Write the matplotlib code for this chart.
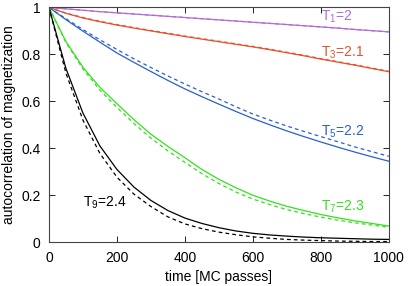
import matplotlib
matplotlib.use("Agg")
import matplotlib.pyplot as plt

# time axis (MC passes)
T = [0, 50, 100, 150, 200, 250, 300, 350, 400, 450, 500,
     550, 600, 650, 700, 750, 800, 850, 900, 950, 1000]

# solid curves
T1 = [1, 0.994, 0.988, 0.982, 0.977, 0.972, 0.967, 0.962, 0.957, 0.952, 0.947,
      0.942, 0.937, 0.932, 0.927, 0.922, 0.917, 0.912, 0.906, 0.901, 0.896]
T3 = [1, 0.975, 0.955, 0.939, 0.925, 0.912, 0.9, 0.888, 0.876, 0.865, 0.854,
      0.843, 0.832, 0.82, 0.807, 0.794, 0.78, 0.767, 0.754, 0.74, 0.726]
T5 = [1, 0.948, 0.899, 0.852, 0.806, 0.766, 0.727, 0.689, 0.653, 0.62, 0.588,
      0.557, 0.527, 0.5, 0.474, 0.45, 0.427, 0.405, 0.384, 0.364, 0.345]
T7 = [1, 0.855, 0.745, 0.66, 0.59, 0.522, 0.46, 0.408, 0.36, 0.31, 0.268,
      0.232, 0.2, 0.175, 0.153, 0.135, 0.118, 0.104, 0.091, 0.08, 0.069]
T9 = [1, 0.74, 0.55, 0.41, 0.31, 0.235, 0.178, 0.135, 0.103, 0.08, 0.062,
      0.048, 0.038, 0.031, 0.026, 0.022, 0.019, 0.017, 0.015, 0.013, 0.012]

# dashed curves
T1d = T1
T3d = [1, 0.976, 0.957, 0.941, 0.927, 0.914, 0.902, 0.89, 0.878, 0.867, 0.856,
       0.845, 0.834, 0.822, 0.809, 0.796, 0.782, 0.769, 0.756, 0.742, 0.728]
T5d = [1, 0.952, 0.906, 0.862, 0.821, 0.781, 0.744, 0.708, 0.674, 0.641, 0.61,
       0.577, 0.546, 0.52, 0.495, 0.472, 0.45, 0.428, 0.406, 0.386, 0.366]
T7d = [1, 0.85, 0.738, 0.648, 0.574, 0.506, 0.443, 0.389, 0.34, 0.292, 0.25,
       0.214, 0.184, 0.16, 0.139, 0.122, 0.107, 0.094, 0.083, 0.073, 0.064]
T9d = [1, 0.72, 0.52, 0.378, 0.277, 0.205, 0.152, 0.108, 0.078, 0.058, 0.043,
       0.032, 0.023, 0.017, 0.012, 0.009, 0.007, 0.005, 0.004, 0.003, 0.003]

COLORS = ["#b36bd6", "#e5522b", "#2a5fcf", "#35e01e", "black"]
LABELS = [r"T$_1$=2", r"T$_3$=2.1", r"T$_5$=2.2", r"T$_7$=2.3", r"T$_9$=2.4"]
LABEL_POS = [(800, 0.958), (800, 0.805), (800, 0.47), (800, 0.15), (100, 0.168)]

plt.rcParams["font.family"] = ["Liberation Sans", "DejaVu Sans"]
plt.rcParams["mathtext.fontset"] = "custom"
plt.rcParams["mathtext.rm"] = "Liberation Sans"
plt.rcParams["mathtext.it"] = "Liberation Sans"

fig = plt.figure(figsize=(4.08, 2.86), dpi=100)
ax = fig.add_axes([0.12, 0.153, 0.833, 0.821])

solid = [T1, T3, T5, T7, T9]
dashed = [T1d, T3d, T5d, T7d, T9d]
for s, d, c in zip(solid, dashed, COLORS):
    ax.plot(T, d, color=c, lw=0.9, ls=(0, (3, 2.5)))
    ax.plot(T, s, color=c, lw=0.9)

for lab, (x, y), c in zip(LABELS, LABEL_POS, COLORS):
    ax.text(x, y, lab, color=c, fontsize=10, va="center", ha="left")

ax.set_xlim(0, 1000)
ax.set_ylim(0, 1)
ax.set_xticks([0, 200, 400, 600, 800, 1000])
ax.set_yticks([0, 0.2, 0.4, 0.6, 0.8, 1])
ax.set_yticklabels(["0", "0.2", "0.4", "0.6", "0.8", "1"])
ax.tick_params(direction="in", top=True, right=True, labelsize=10, length=4, width=0.6, pad=6)
for sp in ax.spines.values():
    sp.set_linewidth(0.8)
    sp.set_color("#444444")
ax.set_xlabel("time [MC passes]", fontsize=10, labelpad=4)
ax.set_ylabel("autocorrelation of magnetization", fontsize=10, labelpad=4)

fig.savefig("out.png", dpi=100)
